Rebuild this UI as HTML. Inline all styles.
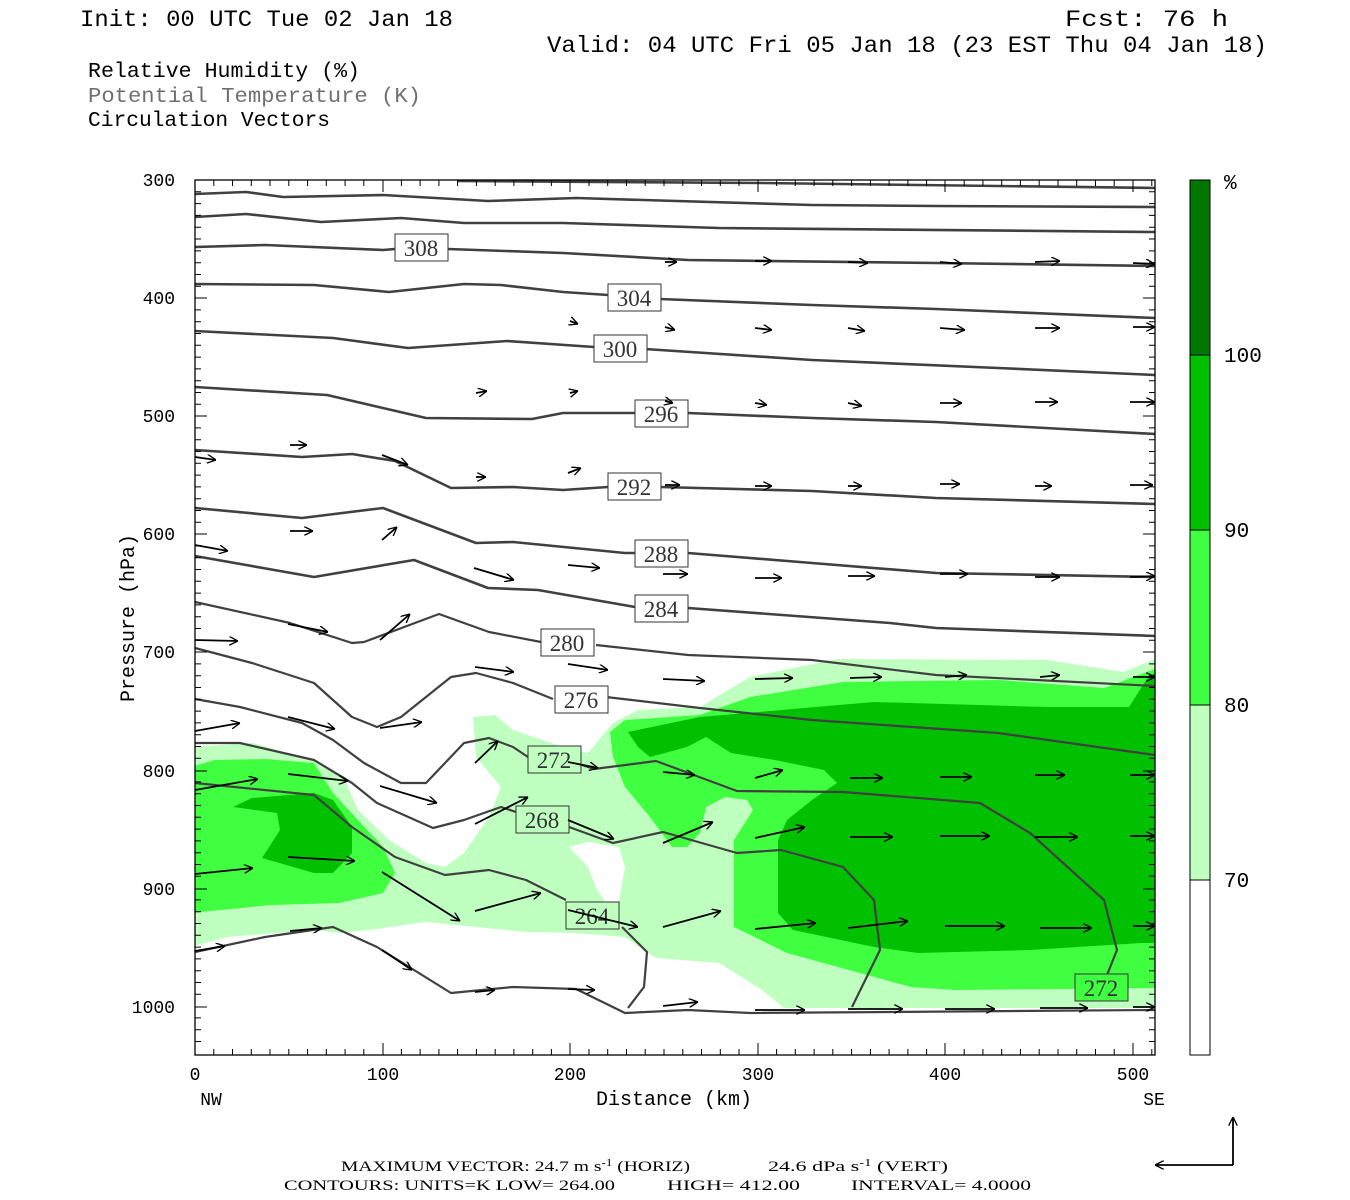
<!DOCTYPE html>
<html><head><meta charset="utf-8"><style>
html,body{margin:0;padding:0;background:#fff;width:1350px;height:1200px;overflow:hidden}
svg{display:block}
</style></head><body>
<svg width="1350" height="1200" viewBox="0 0 1350 1200" xmlns="http://www.w3.org/2000/svg">
<defs>
<marker id="ah" viewBox="0 0 10 10" refX="10" refY="5" markerWidth="9" markerHeight="9" markerUnits="userSpaceOnUse" orient="auto">
<path d="M0,0 L10,5 L0,10" fill="none" stroke="#000" stroke-width="1.5"/>
</marker>
<clipPath id="pc"><rect x="195" y="180" width="960" height="875"/></clipPath>
</defs>
<rect width="1350" height="1200" fill="#fff"/>
<g font-family="Liberation Mono, monospace" font-size="23.5" fill="#000" xml:space="preserve">
<text x="80" y="26" textLength="373" lengthAdjust="spacingAndGlyphs">Init: 00 UTC Tue 02 Jan 18</text>
<text x="1065" y="26" textLength="163" lengthAdjust="spacingAndGlyphs">Fcst:   76 h</text>
<text x="547" y="52" textLength="720" lengthAdjust="spacingAndGlyphs">Valid: 04 UTC Fri 05 Jan 18 (23 EST Thu 04 Jan 18)</text>
</g>
<g font-family="Liberation Mono, monospace" font-size="21">
<text x="88" y="77" textLength="272" lengthAdjust="spacingAndGlyphs">Relative Humidity (%)</text>
<text x="88" y="102" fill="#707070" textLength="333" lengthAdjust="spacingAndGlyphs">Potential Temperature (K)</text>
<text x="88" y="126" textLength="242" lengthAdjust="spacingAndGlyphs">Circulation Vectors</text>
</g>

<g stroke="none" clip-path="url(#pc)">
<path fill="#bfffbf" fill-rule="evenodd" d="M1160,657 L1123,672 L1048,660 L837,659 L750,677 L700,707 L638,710 L613,723 L588,753 L563,747 L513,730 L495,715 L473,717 L476,757 L501,787 L489,817 L464,853 L445,867 L426,863 L389,840 L358,810 L345,780 L314,760 L252,743 L190,747 L190,947 L227,937 L314,930 L339,933 L370,930 L426,922 L526,932 L576,933 L625,937 L656,958 L719,963 L762,990 L784,1008 L1160,1008 Z M569,847 L588,842 L619,847 L625,867 L619,900 L613,913 L597,890 L588,867 Z"/>
<path fill="#40ff40" d="M1160,667 L1104,688 L998,680 L843,682 L750,697 L700,715 L625,720 L610,732 L613,757 L625,787 L650,817 L672,847 L687,847 L700,833 L706,807 L725,797 L747,800 L753,810 L734,840 L734,927 L787,953 L849,970 L911,987 L955,990 L1160,988 Z"/>
<path fill="#40ff40" d="M190,767 L215,760 L265,759 L314,763 L333,793 L358,820 L383,847 L395,873 L383,893 L339,903 L271,905 L190,913 Z"/>
<path fill="#00c000" d="M1160,670 L1148,677 L1129,707 L1048,707 L874,702 L700,717 L628,732 L638,747 L650,757 L687,747 L706,737 L731,753 L775,760 L824,770 L837,783 L812,800 L787,820 L778,840 L778,913 L793,930 L874,947 L918,953 L1030,950 L1141,943 L1160,943 Z"/>
<path fill="#00c000" d="M233,807 L252,798 L314,793 L333,800 L352,827 L352,853 L333,873 L314,873 L262,858 L280,830 L277,813 Z"/>
</g>

<g fill="none" stroke="#404040" stroke-width="2.6" stroke-linejoin="round">
<polyline points="457,181 762,183 1155,188"/>
<polyline points="195,194 246,192 283,197 383,195 488,201 576,198 812,205 936,206 1155,207"/>
<polyline points="195,217 246,214 321,222 401,218 464,223 563,223 719,228 1155,232"/>
<polyline points="195,247 265,245 383,250 395,249"/><polyline points="448,249 563,253 688,260 936,263 1155,266"/>
<polyline points="195,284 314,285 389,292 464,284 501,285 563,292 608,295"/><polyline points="660,299 812,305 936,309 1155,318"/>
<polyline points="195,331 333,338 408,348 507,341 594,347"/><polyline points="645,349 812,360 998,368 1155,375"/>
<polyline points="195,387 327,395 370,405 426,418 532,419 563,413 635,413"/><polyline points="688,413 812,418 936,422 1155,434"/>
<polyline points="195,450 302,457 352,454 395,461 451,488 513,487 563,490 608,487"/><polyline points="660,487 812,491 936,498 1155,504"/>
<polyline points="195,508 302,518 383,508 476,543 513,542 625,553 635,553"/><polyline points="688,553 812,563 936,573 1155,577"/>
<polyline points="195,556 314,577 414,560 488,588 538,590 635,607"/><polyline points="688,608 890,623 936,628 1155,636"/>
</g>
<g fill="none" stroke="#404040" stroke-width="2.2" stroke-linejoin="round">
<polyline points="195,602 290,623 352,643 364,642 439,614 489,632 541,642"/><polyline points="596,645 688,655 812,660 936,675 1155,686"/>
<polyline points="195,648 252,663 314,683 352,717 377,727 401,717 451,677 476,673 513,683 553,699"/><polyline points="606,697 700,708 812,720 998,733 1155,755"/>
<polyline points="195,699 240,707 302,723 333,740 364,763 401,783 426,783 464,743 489,738 513,747 528,757"/><polyline points="582,765 594,769 656,761 737,791 843,792 980,803 1030,833 1104,900 1117,950 1107,975"/>
<polyline points="195,743 240,743 314,760 352,783 377,803 433,828 464,820 501,807 516,812"/><polyline points="569,827 613,843 663,832 737,853 781,850 843,867 874,900 880,950 852,1007"/>
<polyline points="195,783 314,795 352,827 395,857 445,875 489,870 526,880 566,900"/><polyline points="622,927 647,952 644,987 628,1008"/>
<polyline points="195,952 265,937 333,927 377,947 451,993 513,987 576,989 625,1013 688,1010 750,1013 1155,1010"/>
</g>
<g font-family="Liberation Serif, serif" font-size="23" text-anchor="middle" stroke="#333" stroke-width="1">
<rect x="395" y="234" width="53" height="27" fill="#fff"/>
<rect x="608" y="284" width="53" height="27" fill="#fff"/>
<rect x="594" y="335" width="53" height="27" fill="#fff"/>
<rect x="635" y="400" width="53" height="27" fill="#fff"/>
<rect x="608" y="473" width="53" height="27" fill="#fff"/>
<rect x="635" y="540" width="53" height="27" fill="#fff"/>
<rect x="635" y="595" width="53" height="27" fill="#fff"/>
<rect x="541" y="629" width="53" height="27" fill="#fff"/>
<rect x="555" y="686" width="53" height="27" fill="#fff"/>
<rect x="528" y="746" width="53" height="27" fill="#bfffbf"/>
<rect x="516" y="806" width="53" height="27" fill="#bfffbf"/>
<rect x="566" y="902" width="53" height="27" fill="#bfffbf"/>
<rect x="1075" y="974" width="53" height="27" fill="#40ff40"/>
</g>
<g font-family="Liberation Serif, serif" font-size="23" text-anchor="middle" fill="#333">
<text x="421" y="256">308</text><text x="634" y="306">304</text><text x="620" y="357">300</text>
<text x="661" y="422">296</text><text x="634" y="495">292</text><text x="661" y="562">288</text>
<text x="661" y="617">284</text><text x="567" y="651">280</text><text x="581" y="708">276</text>
<text x="554" y="768">272</text><text x="542" y="828">268</text><text x="592" y="924">264</text>
<text x="1101" y="996">272</text>
</g>

<g stroke="#000" stroke-width="1.8" marker-end="url(#ah)" fill="none">
<line x1="665" y1="262" x2="677" y2="262"/><line x1="755" y1="261" x2="772" y2="261"/><line x1="848" y1="262" x2="868" y2="263"/><line x1="940" y1="262" x2="962" y2="264"/><line x1="1035" y1="262" x2="1060" y2="261"/><line x1="1133" y1="263" x2="1155" y2="264"/>
<line x1="665" y1="327" x2="675" y2="330"/><line x1="755" y1="328" x2="772" y2="330"/><line x1="848" y1="328" x2="865" y2="331"/><line x1="940" y1="328" x2="965" y2="330"/><line x1="1035" y1="328" x2="1060" y2="328"/><line x1="1133" y1="327" x2="1155" y2="327"/>
<line x1="570" y1="321" x2="578" y2="324"/><line x1="570" y1="393" x2="578" y2="391"/><line x1="476" y1="393" x2="487" y2="391"/>
<line x1="665" y1="401" x2="673" y2="403"/><line x1="755" y1="403" x2="767" y2="405"/><line x1="848" y1="403" x2="862" y2="406"/><line x1="940" y1="403" x2="962" y2="403"/><line x1="1035" y1="402" x2="1058" y2="402"/><line x1="1130" y1="402" x2="1155" y2="402"/>
<line x1="665" y1="485" x2="680" y2="485"/><line x1="755" y1="486" x2="772" y2="486"/><line x1="848" y1="486" x2="862" y2="486"/><line x1="940" y1="484" x2="960" y2="484"/><line x1="1035" y1="486" x2="1052" y2="486"/><line x1="1130" y1="485" x2="1153" y2="485"/>
<line x1="476" y1="477" x2="486" y2="477"/><line x1="568" y1="473" x2="581" y2="468"/><line x1="290" y1="445" x2="307" y2="445"/><line x1="382" y1="455" x2="408" y2="465"/><line x1="195" y1="457" x2="216" y2="460"/>
<line x1="290" y1="531" x2="313" y2="531"/><line x1="382" y1="540" x2="397" y2="527"/><line x1="195" y1="545" x2="228" y2="551"/>
<line x1="568" y1="565" x2="600" y2="568"/><line x1="474" y1="568" x2="514" y2="580"/><line x1="663" y1="574" x2="688" y2="574"/><line x1="755" y1="578" x2="782" y2="578"/><line x1="848" y1="576" x2="875" y2="576"/><line x1="940" y1="574" x2="968" y2="574"/><line x1="1035" y1="577" x2="1060" y2="577"/><line x1="1130" y1="577" x2="1155" y2="576"/>
<line x1="195" y1="640" x2="238" y2="641"/><line x1="288" y1="624" x2="328" y2="632"/><line x1="380" y1="640" x2="410" y2="614"/><line x1="568" y1="664" x2="608" y2="670"/><line x1="475" y1="667" x2="514" y2="672"/>
<line x1="663" y1="679" x2="705" y2="681"/><line x1="755" y1="679" x2="793" y2="678"/><line x1="850" y1="678" x2="882" y2="677"/><line x1="945" y1="677" x2="967" y2="675"/><line x1="1040" y1="677" x2="1060" y2="675"/><line x1="1133" y1="677" x2="1155" y2="677"/>
<line x1="195" y1="731" x2="240" y2="723"/><line x1="288" y1="717" x2="335" y2="729"/><line x1="380" y1="728" x2="422" y2="722"/><line x1="475" y1="763" x2="498" y2="741"/><line x1="568" y1="762" x2="598" y2="768"/>
<line x1="663" y1="772" x2="695" y2="775"/><line x1="755" y1="778" x2="783" y2="770"/><line x1="850" y1="778" x2="883" y2="778"/><line x1="940" y1="777" x2="972" y2="777"/><line x1="1035" y1="775" x2="1065" y2="775"/><line x1="1130" y1="775" x2="1155" y2="775"/>
<line x1="195" y1="790" x2="258" y2="779"/><line x1="288" y1="774" x2="348" y2="781"/><line x1="380" y1="786" x2="437" y2="803"/><line x1="475" y1="824" x2="528" y2="797"/><line x1="568" y1="820" x2="614" y2="839"/>
<line x1="663" y1="843" x2="713" y2="822"/><line x1="755" y1="838" x2="805" y2="827"/><line x1="850" y1="837" x2="893" y2="837"/><line x1="940" y1="836" x2="990" y2="836"/><line x1="1035" y1="837" x2="1078" y2="837"/><line x1="1130" y1="836" x2="1155" y2="836"/>
<line x1="195" y1="874" x2="253" y2="868"/><line x1="288" y1="857" x2="355" y2="861"/><line x1="382" y1="872" x2="460" y2="921"/><line x1="475" y1="911" x2="541" y2="893"/><line x1="568" y1="910" x2="638" y2="927"/>
<line x1="663" y1="927" x2="721" y2="911"/><line x1="755" y1="929" x2="816" y2="923"/><line x1="848" y1="928" x2="908" y2="921"/><line x1="945" y1="926" x2="1005" y2="926"/><line x1="1040" y1="928" x2="1092" y2="928"/><line x1="1133" y1="926" x2="1155" y2="926"/>
<line x1="195" y1="951" x2="225" y2="946"/><line x1="290" y1="931" x2="322" y2="928"/><line x1="382" y1="950" x2="412" y2="970"/><line x1="475" y1="992" x2="495" y2="990"/><line x1="568" y1="989" x2="595" y2="990"/>
<line x1="663" y1="1006" x2="698" y2="1002"/><line x1="755" y1="1010" x2="805" y2="1010"/><line x1="848" y1="1009" x2="903" y2="1009"/><line x1="945" y1="1009" x2="995" y2="1009"/><line x1="1040" y1="1008" x2="1088" y2="1008"/><line x1="1133" y1="1007" x2="1155" y2="1007"/>
<line x1="1233" y1="1165" x2="1155" y2="1165"/><line x1="1233" y1="1165" x2="1233" y2="1117"/>
</g>

<rect x="195" y="180" width="960" height="875" fill="none" stroke="#000" stroke-width="1.3"/>
<g stroke="#000" stroke-width="1">
<path d="M195,191.8h6M195,203.6h6M195,215.4h6M195,227.2h6M195,239h6M195,250.9h6M195,262.7h6M195,274.5h6M195,286.3h6M195,298h12M195,309.9h6M195,321.7h6M195,333.5h6M195,345.3h6M195,357.1h6M195,368.9h6M195,380.7h6M195,392.5h6M195,404.3h6M195,416h12M195,427.9h6M195,439.7h6M195,451.5h6M195,463.3h6M195,475.1h6M195,486.9h6M195,498.7h6M195,510.5h6M195,522.3h6M195,534h12M195,545.9h6M195,557.7h6M195,569.5h6M195,581.3h6M195,593.1h6M195,604.9h6M195,616.7h6M195,628.5h6M195,640.3h6M195,652h12M195,663.9h6M195,675.7h6M195,687.5h6M195,699.3h6M195,711.1h6M195,722.9h6M195,734.7h6M195,746.5h6M195,758.3h6M195,771h12M195,781.9h6M195,793.7h6M195,805.5h6M195,817.3h6M195,829.1h6M195,840.9h6M195,852.7h6M195,864.5h6M195,876.3h6M195,889h12M195,899.9h6M195,911.7h6M195,923.5h6M195,935.3h6M195,947.1h6M195,958.9h6M195,970.7h6M195,982.5h6M195,994.3h6M195,1007h12M195,1017.9h6M195,1029.7h6M195,1041.5h6"/>
<path d="M1155,191.8h-6M1155,203.6h-6M1155,215.4h-6M1155,227.2h-6M1155,239h-6M1155,250.9h-6M1155,262.7h-6M1155,274.5h-6M1155,286.3h-6M1155,298h-12M1155,309.9h-6M1155,321.7h-6M1155,333.5h-6M1155,345.3h-6M1155,357.1h-6M1155,368.9h-6M1155,380.7h-6M1155,392.5h-6M1155,404.3h-6M1155,416h-12M1155,427.9h-6M1155,439.7h-6M1155,451.5h-6M1155,463.3h-6M1155,475.1h-6M1155,486.9h-6M1155,498.7h-6M1155,510.5h-6M1155,522.3h-6M1155,534h-12M1155,545.9h-6M1155,557.7h-6M1155,569.5h-6M1155,581.3h-6M1155,593.1h-6M1155,604.9h-6M1155,616.7h-6M1155,628.5h-6M1155,640.3h-6M1155,652h-12M1155,663.9h-6M1155,675.7h-6M1155,687.5h-6M1155,699.3h-6M1155,711.1h-6M1155,722.9h-6M1155,734.7h-6M1155,746.5h-6M1155,758.3h-6M1155,771h-12M1155,781.9h-6M1155,793.7h-6M1155,805.5h-6M1155,817.3h-6M1155,829.1h-6M1155,840.9h-6M1155,852.7h-6M1155,864.5h-6M1155,876.3h-6M1155,889h-12M1155,899.9h-6M1155,911.7h-6M1155,923.5h-6M1155,935.3h-6M1155,947.1h-6M1155,958.9h-6M1155,970.7h-6M1155,982.5h-6M1155,994.3h-6M1155,1007h-12M1155,1017.9h-6M1155,1029.7h-6M1155,1041.5h-6"/>
<path d="M213.8,1055v-6M232.5,1055v-6M251.3,1055v-6M270,1055v-6M288.8,1055v-6M307.6,1055v-6M326.3,1055v-6M345.1,1055v-6M363.8,1055v-6M383,1055v-12M401.4,1055v-6M420.1,1055v-6M438.9,1055v-6M457.6,1055v-6M476.4,1055v-6M495.2,1055v-6M513.9,1055v-6M532.7,1055v-6M551.4,1055v-6M570,1055v-12M589,1055v-6M607.7,1055v-6M626.5,1055v-6M645.2,1055v-6M664,1055v-6M682.8,1055v-6M701.5,1055v-6M720.3,1055v-6M739,1055v-6M758,1055v-12M776.6,1055v-6M795.3,1055v-6M814.1,1055v-6M832.8,1055v-6M851.6,1055v-6M870.4,1055v-6M889.1,1055v-6M907.9,1055v-6M926.6,1055v-6M945,1055v-12M964.2,1055v-6M982.9,1055v-6M1001.7,1055v-6M1020.4,1055v-6M1039.2,1055v-6M1058,1055v-6M1076.7,1055v-6M1095.5,1055v-6M1114.2,1055v-6M1133,1055v-12M1151.8,1055v-6"/>
<path d="M213.8,180v6M232.5,180v6M251.3,180v6M270,180v6M288.8,180v6M307.6,180v6M326.3,180v6M345.1,180v6M363.8,180v6M383,180v12M401.4,180v6M420.1,180v6M438.9,180v6M457.6,180v6M476.4,180v6M495.2,180v6M513.9,180v6M532.7,180v6M551.4,180v6M570,180v12M589,180v6M607.7,180v6M626.5,180v6M645.2,180v6M664,180v6M682.8,180v6M701.5,180v6M720.3,180v6M739,180v6M758,180v12M776.6,180v6M795.3,180v6M814.1,180v6M832.8,180v6M851.6,180v6M870.4,180v6M889.1,180v6M907.9,180v6M926.6,180v6M945,180v12M964.2,180v6M982.9,180v6M1001.7,180v6M1020.4,180v6M1039.2,180v6M1058,180v6M1076.7,180v6M1095.5,180v6M1114.2,180v6M1133,180v12M1151.8,180v6"/>
</g>
<g font-family="Liberation Mono, monospace" font-size="18" text-anchor="end">
<text x="175" y="186">300</text><text x="175" y="304">400</text><text x="175" y="422">500</text><text x="175" y="540">600</text><text x="175" y="658">700</text><text x="175" y="777">800</text><text x="175" y="895">900</text><text x="175" y="1013">1000</text>
</g>
<g font-family="Liberation Mono, monospace" font-size="18" text-anchor="middle">
<text x="195" y="1080">0</text><text x="383" y="1080">100</text><text x="570" y="1080">200</text><text x="758" y="1080">300</text><text x="945" y="1080">400</text><text x="1133" y="1080">500</text>
<text x="211" y="1105">NW</text><text x="1154" y="1105">SE</text>
<text x="674" y="1105" font-size="20">Distance (km)</text>
<text transform="translate(134,618) rotate(-90)" font-size="20">Pressure (hPa)</text>
</g>
<g stroke="#000" stroke-width="1">
<rect x="1190" y="180" width="20" height="175" fill="#007800"/>
<rect x="1190" y="355" width="20" height="175" fill="#00c000"/>
<rect x="1190" y="530" width="20" height="175" fill="#40ff40"/>
<rect x="1190" y="705" width="20" height="175" fill="#bfffbf"/>
<rect x="1190" y="880" width="20" height="175" fill="#fff"/>
</g>
<g font-family="Liberation Mono, monospace" font-size="21">
<text x="1224" y="189">%</text><text x="1224" y="362">100</text><text x="1224" y="537">90</text><text x="1224" y="712">80</text><text x="1224" y="887">70</text>
</g>
<g font-family="Liberation Serif, serif" font-size="15" xml:space="preserve">
<text x="341" y="1171" textLength="349" lengthAdjust="spacingAndGlyphs">MAXIMUM VECTOR:  24.7 m s<tspan dy="-5" font-size="10">-1</tspan><tspan dy="5"> (HORIZ)</tspan></text>
<text x="768" y="1171" textLength="180" lengthAdjust="spacingAndGlyphs">24.6 dPa s<tspan dy="-5" font-size="10">-1</tspan><tspan dy="5"> (VERT)</tspan></text>
<text x="284" y="1190" textLength="331" lengthAdjust="spacingAndGlyphs">CONTOURS:  UNITS=K  LOW=  264.00</text>
<text x="667" y="1190" textLength="133" lengthAdjust="spacingAndGlyphs">HIGH=  412.00</text>
<text x="851" y="1190" textLength="180" lengthAdjust="spacingAndGlyphs">INTERVAL=    4.0000</text>
</g>
</svg>
</body></html>
